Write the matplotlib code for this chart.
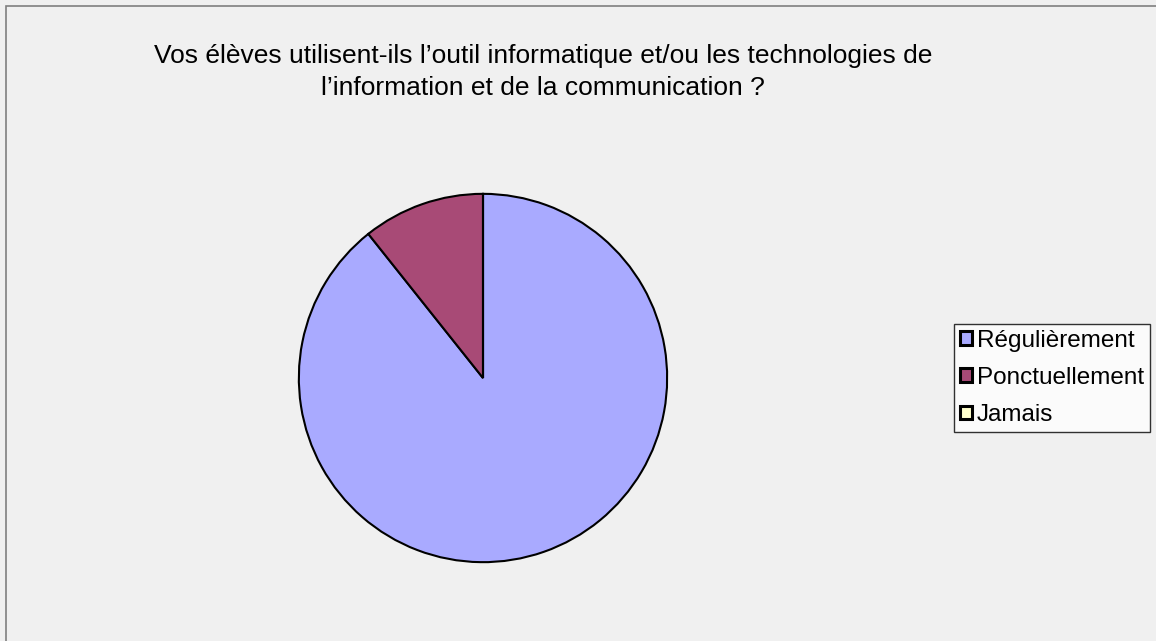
import matplotlib.pyplot as plt
from matplotlib.patches import Rectangle

categories = ["Régulièrement", "Ponctuellement", "Jamais"]
valeurs = [89.3, 10.7, 0.0]
couleurs = ["#A9AAFF", "#A84A76", "#FFFFCC"]
titre = ("Vos élèves utilisent-ils l\u2019outil informatique et/ou les technologies de\n"
         "l\u2019information et de la communication ?")

plt.rcParams['font.family'] = ['Liberation Sans', 'DejaVu Sans']

fig = plt.figure(figsize=(11.56, 6.41), dpi=100)
fig.patch.set_facecolor('#F0F0F0')

# cadre gris (visible à gauche et en haut seulement)
fig.add_artist(Rectangle((6 / 1156, -0.1), 1.2, (641 - 6) / 641 + 0.1,
                         transform=fig.transFigure, fill=False,
                         edgecolor='#808080', linewidth=1.2))

# camembert : centre (483, 378), rayon 186 px
r = 186
ax = fig.add_axes([(483 - r) / 1156, (641 - 378 - r) / 641, 2 * r / 1156, 2 * r / 641])
ax.set_facecolor('none')
wedges, _ = ax.pie(valeurs, colors=couleurs, startangle=90, counterclock=False,
                   wedgeprops=dict(edgecolor='black', linewidth=1.5))
ax.set_xlim(-1.01, 1.01)
ax.set_ylim(-1.01, 1.01)

fig.text(543 / 1156, 1 - 72 / 641, titre, ha='center', va='center',
         fontsize=19, linespacing=1.4)

leg = fig.legend(wedges, categories, loc='center left',
                 bbox_to_anchor=(954 / 1156, 1 - 378 / 641),
                 fontsize=17.5, frameon=True, fancybox=False,
                 handlelength=0.5, handleheight=0.5, handletextpad=0.2,
                 labelspacing=0.62, borderpad=0.25, borderaxespad=0)
leg.get_frame().set_edgecolor('black')
leg.get_frame().set_linewidth(1)
leg.get_frame().set_facecolor('white')
for h in leg.legend_handles:
    h.set_linewidth(2.2)

plt.savefig('out.png', dpi=100, facecolor=fig.get_facecolor())
plt.close()
